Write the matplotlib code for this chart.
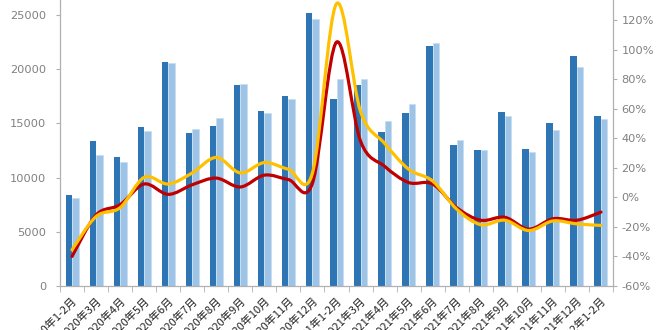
import matplotlib
matplotlib.use('Agg')
import matplotlib.pyplot as plt
from matplotlib.path import Path
from matplotlib.patches import PathPatch

plt.rcParams['font.family'] = ['DejaVu Sans']

# monthly data, 2020年1-2月 to 2022年1-2月
months = ['2020年1-2月', '2020年3月', '2020年4月', '2020年5月', '2020年6月', '2020年7月',
          '2020年8月', '2020年9月', '2020年10月', '2020年11月', '2020年12月',
          '2021年1-2月', '2021年3月', '2021年4月', '2021年5月', '2021年6月', '2021年7月',
          '2021年8月', '2021年9月', '2021年10月', '2021年11月', '2021年12月', '2022年1-2月']

bars_dark = [8420, 13400, 11900, 14670, 20660, 14140, 14790, 18540, 16170, 17500, 25160,
             17280, 18540, 14210, 15990, 22170, 12980, 12520, 16050, 12640, 15010, 21250, 15680]
bars_light = [8090, 12090, 11410, 14330, 20570, 14460, 15470, 18610, 15930, 17250, 24600,
              19070, 19120, 15190, 16820, 22390, 13440, 12580, 15680, 12330, 14420, 20200, 15410]

# growth rates in %
growth_red = [-40, -12, -5, 9, 2, 8.5, 13, 7, 15, 12, 9.5,
              105, 38, 21, 10, 9, -7, -15.5, -13.5, -21.5, -14.5, -15.5, -10]
growth_yellow = [-35.5, -13, -7, 13.5, 9, 16.5, 27, 16.5, 23.5, 19, 16.5,
                 131, 58, 36.5, 19, 11, -8, -18.5, -15.5, -22.5, -16, -18, -19]


def smooth_path(xs, ys):
    # cubic bezier through every point, like a spreadsheet "smoothed line"
    n = len(xs)
    verts = [(xs[0], ys[0])]
    codes = [Path.MOVETO]
    for i in range(n - 1):
        a = i - 1 if i > 0 else i
        d = i + 2 if i + 2 < n else i + 1
        c1 = (xs[i] + (xs[i + 1] - xs[a]) / 6, ys[i] + (ys[i + 1] - ys[a]) / 6)
        c2 = (xs[i + 1] - (xs[d] - xs[i]) / 6, ys[i + 1] - (ys[d] - ys[i]) / 6)
        verts += [c1, c2, (xs[i + 1], ys[i + 1])]
        codes += [Path.CURVE4] * 3
    return Path(verts, codes)


fig = plt.figure(figsize=(6.6, 3.3), dpi=100)
ax1 = fig.add_axes([60 / 660, 44 / 330, 553 / 660, 286 / 330])
ax2 = ax1.twinx()

x = list(range(len(months)))
w = 0.27
ax1.bar([i - w / 2 for i in x], bars_dark, width=w, color='#2e75b6', zorder=2)
ax1.bar([i + w / 2 for i in x], bars_light, width=w, color='#9dc3e6',
        edgecolor='#c8ddf1', linewidth=0.5, zorder=2)

for vals, col in [(growth_red, '#c00000'), (growth_yellow, '#ffc000')]:
    ax2.add_patch(PathPatch(smooth_path(x, vals), fill=False, edgecolor=col,
                            linewidth=2.3, capstyle='round', joinstyle='round'))

ax1.set_xlim(-0.5, len(months) - 0.5)
ax1.set_ylim(0, 26384)
ax1.set_yticks([0, 5000, 10000, 15000, 20000, 25000])
ax2.set_ylim(-60, 133.5)
ax2.set_yticks(range(-60, 121, 20))
ax2.set_yticklabels([f'{v}%' for v in range(-60, 121, 20)])

ax1.set_xticks(x)
ax1.set_xticklabels(months, rotation=45, ha='right', rotation_mode='anchor',
                    family=['Noto Sans CJK SC', 'DejaVu Sans'], fontsize=8, color='#222222')
ax1.set_xticks([i - 0.5 for i in range(len(months) + 1)], minor=True)
ax1.tick_params(axis='x', which='major', length=0, pad=7)
ax1.tick_params(axis='x', which='minor', length=4, color='#b0b0b0')

ax1.tick_params(axis='y', length=3, color='#b0b0b0', labelcolor='#808080',
                labelsize=8.2, pad=7)
ax2.tick_params(axis='y', length=3, color='#b0b0b0', labelcolor='#808080',
                labelsize=8.2, pad=3)

for ax in (ax1, ax2):
    ax.spines['top'].set_visible(False)
    for s in ('left', 'right', 'bottom'):
        ax.spines[s].set_color('#b0b0b0')

fig.savefig('out.png', dpi=100)
